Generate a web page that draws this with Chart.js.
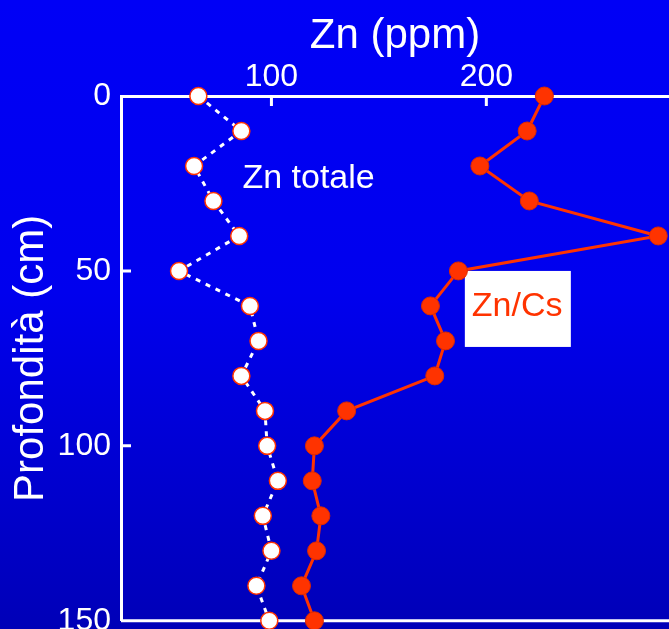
<!DOCTYPE html>
<html>
<head>
<meta charset="utf-8">
<title>Zn profile</title>
<script src="https://cdn.jsdelivr.net/npm/chart.js@4.4.1/dist/chart.umd.min.js"></script>
<style>
    html, body { margin: 0; padding: 0; overflow: hidden; background: #0000b8; }
    canvas { display: block; }
</style>
</head>
<body>
<canvas id="znChart" width="669" height="650"></canvas>
<script>
// ========================================
// Data (depth in cm, Zn in ppm)
// ========================================
const depths = [0, 10, 20, 30, 40, 50, 60, 70, 80, 90, 100, 110, 120, 130, 140, 150];
const znTotale = [66, 86, 64, 73, 85, 57, 90, 94, 86, 97, 98, 103, 96, 100, 93, 99];
const znCs = [227, 219, 197, 220, 280, 187, 174, 181, 176, 135, 120, 119, 123, 121, 114, 120];
const xTicks = [100, 200];
const yTicks = [0, 50, 100, 150];

const RED = '#ff3300';
const FONT = "'Liberation Sans', Arial, sans-serif";

function toPoints(values) {
    return values.map((v, i) => ({ x: v, y: depths[i] }));
}

// ========================================
// Plugins: background, frame, inner ticks, labels
// ========================================
const background = {
    id: 'background',
    beforeDraw(chart) {
        const { ctx, width, height } = chart;
        const g = ctx.createLinearGradient(0, 0, 0, height);
        g.addColorStop(0, '#0000f6');
        g.addColorStop(0.45, '#0000ee');
        g.addColorStop(1, '#0000b4');
        ctx.save();
        ctx.fillStyle = g;
        ctx.fillRect(0, 0, width, height);
        ctx.restore();
    }
};

const frame = {
    id: 'frame',
    beforeDatasetsDraw(chart) {
        const { ctx, chartArea } = chart;
        const x = chart.scales.x, y = chart.scales.y;
        ctx.save();
        ctx.strokeStyle = '#ffffff';
        ctx.lineWidth = 3;
        ctx.beginPath();
        // bottom line
        ctx.moveTo(chartArea.left, chartArea.bottom);
        ctx.lineTo(chartArea.right, chartArea.bottom);
        // inner ticks on top axis
        xTicks.forEach(v => {
            const px = x.getPixelForValue(v);
            ctx.moveTo(px, chartArea.top);
            ctx.lineTo(px, chartArea.top + 10);
        });
        // inner ticks on left axis
        [50, 100].forEach(v => {
            const py = y.getPixelForValue(v);
            ctx.moveTo(chartArea.left, py);
            ctx.lineTo(chartArea.left + 10, py);
        });
        ctx.stroke();

        // series labels
        ctx.font = '34px ' + FONT;
        ctx.textBaseline = 'middle';
        ctx.fillStyle = '#ffffff';
        ctx.fillText('Zn totale', x.getPixelForValue(86.5), y.getPixelForValue(23.5));

        const bx = x.getPixelForValue(190), by = y.getPixelForValue(50);
        ctx.fillRect(bx, by, 106, 76);
        ctx.fillStyle = RED;
        ctx.font = '34px ' + FONT;
        ctx.fillText('Zn/Cs', bx + 7, by + 36);
        ctx.restore();
    }
};

// ========================================
// Chart
// ========================================
new Chart(document.getElementById('znChart'), {
    type: 'line',
    data: {
        datasets: [
            {
                label: 'Zn totale',
                data: toPoints(znTotale),
                borderColor: '#ffffff',
                borderWidth: 3,
                borderDash: [5, 6],
                pointBackgroundColor: '#ffffff',
                pointBorderColor: RED,
                pointBorderWidth: 1.5,
                pointRadius: 8.5,
                tension: 0,
                clip: false
            },
            {
                label: 'Zn/Cs',
                data: toPoints(znCs),
                borderColor: RED,
                borderWidth: 3,
                pointBackgroundColor: RED,
                pointBorderColor: '#dd2a00',
                pointBorderWidth: 1,
                pointRadius: 9,
                tension: 0,
                clip: false
            }
        ]
    },
    options: {
        responsive: false,
        animation: false,
        layout: { autoPadding: false, padding: { left: 0, top: 0, right: 0, bottom: 11 } },
        plugins: {
            legend: { display: false },
            tooltip: { enabled: false }
        },
        scales: {
            x: {
                type: 'linear',
                position: 'top',
                min: 30,
                max: 285,
                afterBuildTicks: s => { s.ticks = xTicks.map(v => ({ value: v })); },
                afterFit: s => { s.height = 96; },
                grid: { display: false, drawTicks: false },
                border: { display: true, color: '#ffffff', width: 3 },
                ticks: { color: '#ffffff', font: { family: FONT, size: 32 }, padding: 0 },
                title: {
                    display: true,
                    text: 'Zn (ppm)',
                    color: '#ffffff',
                    font: { family: FONT, size: 42 },
                    padding: { top: 11, bottom: 0 }
                }
            },
            y: {
                type: 'linear',
                reverse: true,
                min: 0,
                max: 150,
                afterBuildTicks: s => { s.ticks = yTicks.map(v => ({ value: v })); },
                afterFit: s => { s.width = 121; },
                grid: { display: false, drawTicks: false },
                border: { display: true, color: '#ffffff', width: 3 },
                ticks: { color: '#ffffff', font: { family: FONT, size: 32 }, padding: 10 },
                title: {
                    display: true,
                    text: 'Profondità (cm)',
                    color: '#ffffff',
                    font: { family: FONT, size: 42 },
                    padding: { top: 6, bottom: 0 }
                }
            }
        }
    },
    plugins: [background, frame]
});
</script>
</body>
</html>
